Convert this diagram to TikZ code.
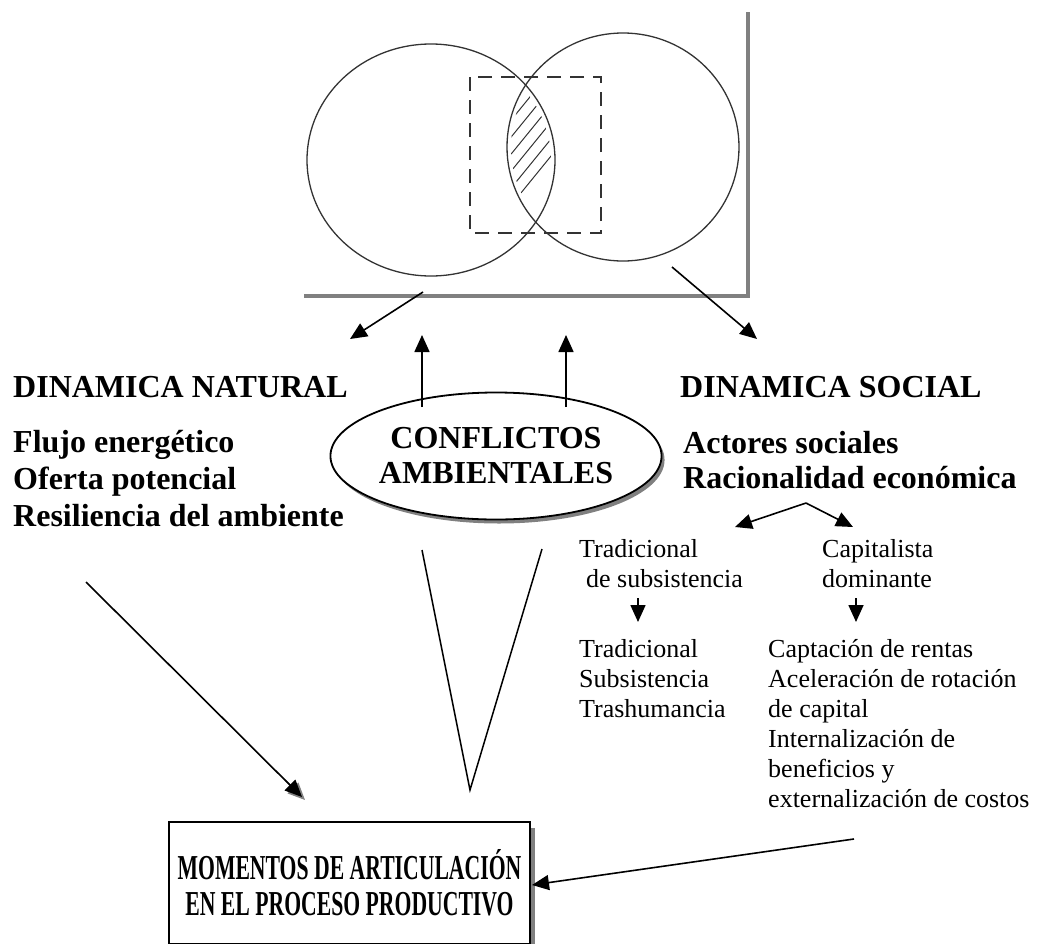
\documentclass[tikz,border=0pt]{standalone}
\usepackage{fontspec}
\setmainfont{Liberation Serif}
\newfontfamily\narrowserif[FakeStretch=0.62]{Liberation Serif}
\usetikzlibrary{calc}
\usetikzlibrary{arrows.meta}
\usetikzlibrary{positioning}
\usetikzlibrary{shapes.geometric}
\usetikzlibrary{shadows}
\definecolor{ShadowGray}{HTML}{808080}
\definecolor{VennLine}{HTML}{333333}

\begin{document}
\begin{tikzpicture}[x=1pt, y=-1pt,
  boldtxt/.style={inner sep=0pt, anchor=base west, font=\fontsize{32}{37}\selectfont\bfseries},
  plaintxt/.style={inner sep=0pt, anchor=base west, font=\fontsize{26}{30}\selectfont},
  link/.style={line width=1.6pt, -{Triangle[length=17pt,width=15pt]}}]
  \useasboundingbox (0,0) rectangle (1042,943);

  % venn diagram
  \coordinate (Left)  at (431,160);
  \coordinate (Right) at (623,147);

  \draw[ShadowGray, line width=4.5pt] (304,296) -- (748,296) -- (748,12);

  \begin{scope}
    \clip (Left) ellipse [x radius=120, y radius=112];
    \clip (Right) ellipse [x radius=112, y radius=110];
    \foreach \k in {0,...,8}{%
      \draw[VennLine, line width=1pt] (490,95+17*\k) -- ++(70,-86);
    }
  \end{scope}

  \draw[VennLine, line width=1.3pt] (Left) ellipse [x radius=124, y radius=116];
  \draw[VennLine, line width=1.3pt] (Right) ellipse [x radius=116, y radius=114];
  \draw[VennLine, line width=1.3pt, dash pattern=on 14pt off 9pt]
    (470,77) rectangle (601,233);

  % texts
  \node[boldtxt] (Natural) at (13,397) {DINAMICA NATURAL};
  \foreach \txt [count=\i] in {Flujo energético, Oferta potencial, Resiliencia del ambiente}{%
    \node[boldtxt] (Nat\i) at (13,415+37*\i) {\txt};
  }

  \node[boldtxt] (Social)   at (680,397) {DINAMICA SOCIAL};
  \node[boldtxt] (Actores)  at (683,453) {Actores sociales};
  \node[boldtxt] (Racional) at (683,488) {Racionalidad económica};

  \node[plaintxt] (Trad)  at (579,557) {Tradicional};
  \node[plaintxt] (Subs)  at (586,587) {de subsistencia};
  \node[plaintxt] (Capit) at (822,557) {Capitalista};
  \node[plaintxt] (Domin) at (822,587) {dominante};

  \foreach \txt [count=\i] in {Tradicional, Subsistencia, Trashumancia}{%
    \node[plaintxt] (TradList\i) at (579,627+30*\i) {\txt};
  }
  \foreach \txt [count=\i] in {Captación de rentas, Aceleración de rotación,
      de capital, Internalización de, beneficios y, externalización de costos}{%
    \node[plaintxt] (CapList\i) at (768,627+30*\i) {\txt};
  }

  \node[ellipse, draw, line width=1.8pt, fill=white, minimum width=292pt,
    minimum height=127pt, inner sep=0pt, align=center,
    font=\fontsize{32}{35}\selectfont\bfseries,
    drop shadow={shadow xshift=3pt, shadow yshift=-4pt, fill=ShadowGray, opacity=1}]
    (Conflictos) at (496,456) {CONFLICTOS\\AMBIENTALES};

  \node[draw, line width=2pt, fill=white, minimum width=361pt, minimum height=122pt,
    align=center, font=\narrowserif\fontsize{35}{36}\selectfont\bfseries,
    drop shadow={shadow xshift=5pt, shadow yshift=-6pt, fill=ShadowGray, opacity=1}]
    (Momentos) at (349.5,883) {MOMENTOS DE ARTICULACIÓN\\EN EL PROCESO PRODUCTIVO};

  % connectors
  \coordinate (VennL)    at (423,292);
  \coordinate (NatTip)   at (350,339);
  \coordinate (VennR)    at (672,267);
  \coordinate (SocTip)   at (757,339);
  \coordinate (UpL)      at (422,407);
  \coordinate (UpLTip)   at (422,335);
  \coordinate (UpR)      at (566,407);
  \coordinate (UpRTip)   at (566,335);
  \coordinate (VTopL)    at (422,550);
  \coordinate (VBottom)  at (470,790);
  \coordinate (VTopR)    at (542,549);
  \coordinate (NatStart) at (86,582);
  \coordinate (BoxTipL)  at (302,797);
  \coordinate (CapStart) at (854,839);
  \coordinate (BoxTipR)  at (532,885);
  \coordinate (Fork)     at (806,503);
  \coordinate (ForkL)    at (735,527);
  \coordinate (ForkR)    at (853,527);
  \coordinate (DownL)    at (638,598);
  \coordinate (DownLTip) at (638,622);
  \coordinate (DownR)    at (856,598);
  \coordinate (DownRTip) at (856,622);

  \draw[link] (VennL) -- (NatTip);
  \draw[link] (VennR) -- (SocTip);
  \draw[link] (UpL) -- (UpLTip);
  \draw[link] (UpR) -- (UpRTip);
  \draw[line width=1.5pt] (VTopL) -- (VBottom) -- (VTopR);
  \draw[link, ShadowGray] ($(BoxTipL)+(-17,-17)$) -- ($(BoxTipL)+(3,3)$);
  \draw[link] (NatStart) -- (BoxTipL);
  \draw[link] (CapStart) -- (BoxTipR);
  \draw[link] (Fork) -- (ForkL);
  \draw[link] (Fork) -- (ForkR);
  \draw[link] (DownL) -- (DownLTip);
  \draw[link] (DownR) -- (DownRTip);
\end{tikzpicture}
\end{document}
